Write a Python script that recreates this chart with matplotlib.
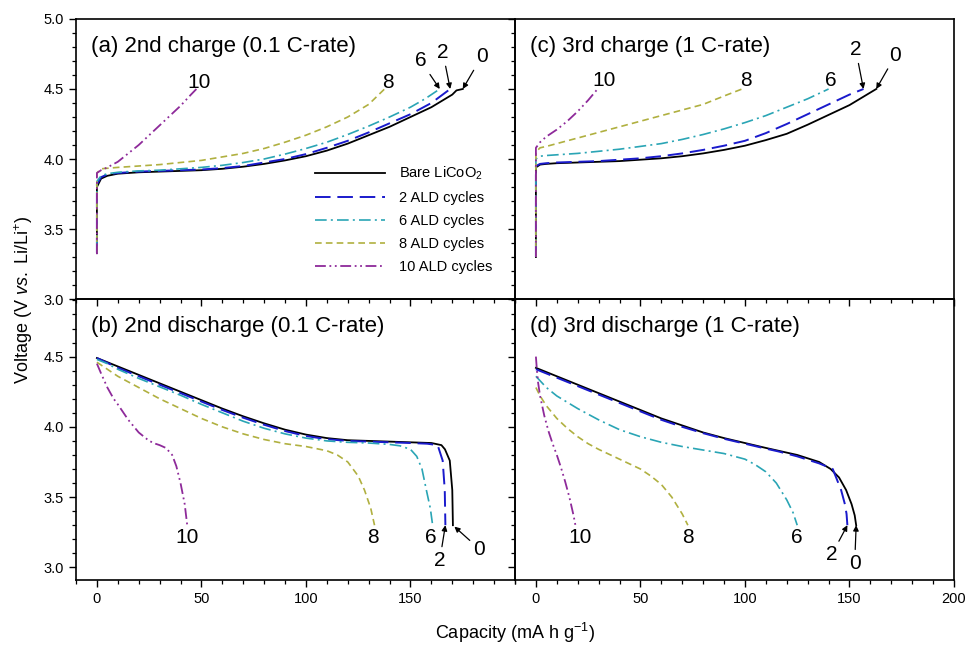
import matplotlib
matplotlib.use("Agg")
import matplotlib.pyplot as plt
from matplotlib.ticker import MultipleLocator, FixedLocator

plt.rcParams['font.family'] = ['Liberation Sans', 'DejaVu Sans']
plt.rcParams['mathtext.fontset'] = 'custom'
plt.rcParams['mathtext.rm'] = 'Liberation Sans'
plt.rcParams['mathtext.it'] = 'Liberation Sans:italic'

# ---------------- data ----------------
series_labels = ["Bare LiCoO$_2$", "2 ALD cycles", "6 ALD cycles", "8 ALD cycles", "10 ALD cycles"]
series_tags = ["0", "2", "6", "8", "10"]

# (a) 2nd charge 0.1 C
a0_x = [0, 0, 2, 5, 10, 20, 30, 40, 50, 60, 70, 80, 90, 100, 110, 120, 130, 140, 150, 160, 165, 170, 172, 175]
a0_y = [3.33, 3.80, 3.86, 3.88, 3.895, 3.905, 3.91, 3.915, 3.92, 3.93, 3.945, 3.965, 3.99, 4.02, 4.06, 4.11, 4.17, 4.23, 4.30, 4.37, 4.415, 4.46, 4.49, 4.50]
a2_x = [0, 0, 2, 5, 10, 20, 30, 40, 50, 60, 70, 80, 90, 100, 110, 120, 130, 140, 150, 160, 169]
a2_y = [3.33, 3.82, 3.87, 3.89, 3.90, 3.91, 3.915, 3.92, 3.925, 3.935, 3.95, 3.975, 4.0, 4.035, 4.08, 4.13, 4.19, 4.255, 4.32, 4.40, 4.50]
a6_x = [0, 0, 2, 5, 10, 20, 30, 40, 50, 60, 70, 80, 90, 100, 110, 120, 130, 140, 150, 157, 164]
a6_y = [3.33, 3.84, 3.88, 3.895, 3.905, 3.915, 3.92, 3.93, 3.94, 3.955, 3.975, 4.0, 4.035, 4.075, 4.12, 4.175, 4.235, 4.30, 4.37, 4.43, 4.50]
a8_x = [0, 0, 2, 10, 20, 30, 40, 50, 60, 70, 80, 90, 100, 110, 120, 130, 137.6]
a8_y = [3.33, 3.90, 3.93, 3.94, 3.95, 3.96, 3.975, 3.99, 4.015, 4.04, 4.075, 4.12, 4.17, 4.23, 4.30, 4.39, 4.50]
a10_x = [0, 0, 2, 5, 10, 15, 20, 25, 30, 35, 40, 45, 47.6]
a10_y = [3.32, 3.90, 3.92, 3.94, 3.98, 4.04, 4.10, 4.17, 4.24, 4.31, 4.38, 4.46, 4.50]

# (c) 3rd charge 1 C
c0_x = [0, 0, 2, 5, 10, 20, 30, 40, 50, 60, 70, 80, 90, 100, 110, 120, 130, 140, 150, 162.8]
c0_y = [3.30, 3.94, 3.96, 3.965, 3.97, 3.975, 3.98, 3.985, 3.995, 4.005, 4.02, 4.04, 4.065, 4.095, 4.135, 4.18, 4.245, 4.315, 4.385, 4.50]
c2_x = [0, 0, 2, 5, 10, 20, 30, 40, 50, 60, 70, 80, 90, 100, 110, 120, 130, 140, 150, 156.7]
c2_y = [3.30, 3.95, 3.965, 3.97, 3.975, 3.98, 3.985, 3.995, 4.005, 4.02, 4.04, 4.065, 4.095, 4.13, 4.185, 4.25, 4.32, 4.39, 4.46, 4.50]
c6_x = [0, 0, 2, 5, 10, 20, 30, 40, 50, 60, 70, 80, 90, 100, 110, 120, 130, 140]
c6_y = [3.30, 4.00, 4.02, 4.025, 4.03, 4.04, 4.055, 4.07, 4.09, 4.11, 4.14, 4.175, 4.215, 4.26, 4.31, 4.37, 4.43, 4.50]
c8_x = [0, 0, 2, 5, 10, 20, 30, 40, 50, 60, 70, 80, 90, 98.6]
c8_y = [3.30, 4.05, 4.08, 4.09, 4.11, 4.15, 4.19, 4.23, 4.27, 4.31, 4.35, 4.39, 4.45, 4.50]
c10_x = [0, 0, 2, 5, 10, 15, 20, 25, 29.5]
c10_y = [3.30, 4.08, 4.12, 4.16, 4.21, 4.27, 4.34, 4.42, 4.50]

# (b) 2nd discharge 0.1 C
b0_x = [0, 5, 10, 20, 30, 40, 50, 60, 70, 80, 90, 100, 110, 120, 130, 140, 150, 160, 164.8, 166.5, 168.8, 170, 170.3]
b0_y = [4.49, 4.46, 4.43, 4.37, 4.31, 4.25, 4.19, 4.13, 4.075, 4.025, 3.98, 3.945, 3.92, 3.905, 3.90, 3.895, 3.89, 3.885, 3.87, 3.84, 3.76, 3.55, 3.30]
b2_x = [0, 5, 10, 20, 30, 40, 50, 60, 70, 80, 90, 100, 110, 120, 130, 140, 150, 158, 163, 165.4, 166.4, 166.7]
b2_y = [4.49, 4.455, 4.42, 4.36, 4.30, 4.24, 4.18, 4.12, 4.065, 4.015, 3.97, 3.935, 3.912, 3.90, 3.895, 3.89, 3.885, 3.88, 3.87, 3.76, 3.55, 3.30]
b6_x = [0, 5, 10, 20, 30, 40, 50, 60, 70, 80, 90, 100, 110, 120, 130, 140, 145, 150, 153, 155.5, 157.6, 159.5, 160.6]
b6_y = [4.48, 4.45, 4.41, 4.345, 4.285, 4.225, 4.16, 4.10, 4.04, 3.99, 3.95, 3.92, 3.90, 3.89, 3.885, 3.875, 3.865, 3.84, 3.79, 3.70, 3.55, 3.42, 3.30]
b8_x = [0, 5, 10, 20, 30, 40, 50, 60, 70, 80, 90, 100, 110, 115, 120, 125, 128, 131, 132.8]
b8_y = [4.46, 4.41, 4.36, 4.28, 4.20, 4.13, 4.06, 4.00, 3.95, 3.91, 3.88, 3.86, 3.83, 3.80, 3.75, 3.65, 3.55, 3.42, 3.30]
b10_x = [0, 2, 5, 8, 10, 15, 20, 25, 28, 30, 33, 36, 38, 40, 42, 43.2]
b10_y = [4.45, 4.38, 4.28, 4.20, 4.16, 4.05, 3.96, 3.90, 3.88, 3.87, 3.85, 3.80, 3.72, 3.60, 3.45, 3.30]

# (d) 3rd discharge 1 C
d0_x = [0, 10, 20, 30, 40, 50, 60, 70, 80, 90, 100, 110, 116, 125, 135.5, 141, 145, 148.4, 151, 152.5, 153.2]
d0_y = [4.42, 4.36, 4.30, 4.24, 4.18, 4.12, 4.06, 4.01, 3.96, 3.92, 3.885, 3.85, 3.83, 3.80, 3.75, 3.70, 3.64, 3.55, 3.45, 3.37, 3.30]
d2_x = [0, 10, 20, 30, 40, 50, 60, 70, 80, 90, 100, 110, 116, 125, 135.5, 142, 146, 147.8, 148.6, 149.0]
d2_y = [4.41, 4.35, 4.29, 4.23, 4.17, 4.11, 4.05, 4.00, 3.955, 3.915, 3.88, 3.845, 3.825, 3.79, 3.74, 3.70, 3.55, 3.45, 3.38, 3.30]
d6_x = [0, 5, 10, 20, 30, 40, 50, 60, 70, 80, 90, 100, 105, 110, 115, 120, 123, 125]
d6_y = [4.36, 4.28, 4.22, 4.13, 4.05, 3.98, 3.93, 3.89, 3.86, 3.835, 3.81, 3.77, 3.73, 3.68, 3.60, 3.48, 3.39, 3.30]
d8_x = [0, 2, 5, 10, 15, 20, 25, 30, 40, 50, 55, 60, 65, 70, 72.7]
d8_y = [4.28, 4.22, 4.15, 4.06, 3.99, 3.93, 3.88, 3.84, 3.77, 3.70, 3.65, 3.59, 3.50, 3.38, 3.30]
d10_x = [0, 0.5, 1, 2, 4, 6, 8, 10, 12, 14, 16, 18, 18.9]
d10_y = [4.50, 4.40, 4.32, 4.22, 4.08, 3.97, 3.88, 3.80, 3.71, 3.61, 3.50, 3.37, 3.30]

panel_titles = ["(a) 2nd charge (0.1 C-rate)", "(c) 3rd charge (1 C-rate)",
                "(b) 2nd discharge (0.1 C-rate)", "(d) 3rd discharge (1 C-rate)"]
x_ticks = [0, 50, 100, 150, 200]
y_ticks = [3.0, 3.5, 4.0, 4.5, 5.0]

# ---------------- style ----------------
colors = ["#000000", "#1a1acc", "#2aa5b5", "#b0b040", "#8e2a9a"]
dashes = [None, (8, 3.5), (7, 2.5, 1.2, 2.5), (4, 2.5), (6, 2, 1, 2, 1, 2)]
lws = [1.3, 1.4, 1.2, 1.2, 1.3]

W, H = 967, 647
fig = plt.figure(figsize=(W / 100, H / 100), dpi=100)
xl, xm, xr = 76 / W, 515 / W, 954 / W
yt, ym, yb = 1 - 19 / H, 1 - 299 / H, 1 - 580 / H
ax_a = fig.add_axes([xl, ym, xm - xl, yt - ym])
ax_c = fig.add_axes([xm, ym, xr - xm, yt - ym])
ax_b = fig.add_axes([xl, yb, xm - xl, ym - yb])
ax_d = fig.add_axes([xm, yb, xr - xm, ym - yb])

data = {
    ax_a: [(a0_x, a0_y), (a2_x, a2_y), (a6_x, a6_y), (a8_x, a8_y), (a10_x, a10_y)],
    ax_c: [(c0_x, c0_y), (c2_x, c2_y), (c6_x, c6_y), (c8_x, c8_y), (c10_x, c10_y)],
    ax_b: [(b0_x, b0_y), (b2_x, b2_y), (b6_x, b6_y), (b8_x, b8_y), (b10_x, b10_y)],
    ax_d: [(d0_x, d0_y), (d2_x, d2_y), (d6_x, d6_y), (d8_x, d8_y), (d10_x, d10_y)],
}

for ax, title in zip([ax_a, ax_c, ax_b, ax_d], panel_titles):
    for (x, y), col, ds, lw, lab in zip(data[ax], colors, dashes, lws, series_labels):
        ln, = ax.plot(x, y, color=col, lw=lw, label=lab)
        if ds is not None:
            ln.set_dashes(ds)
    ax.set_xlim(-10, 200)
    ax.xaxis.set_major_locator(FixedLocator(x_ticks))
    ax.xaxis.set_minor_locator(MultipleLocator(10))
    ax.yaxis.set_major_locator(FixedLocator(y_ticks))
    ax.yaxis.set_minor_locator(MultipleLocator(0.1))
    ax.tick_params(which='major', direction='out', length=5, width=1.0, labelsize=10.5,
                   top=False, right=False)
    ax.tick_params(which='minor', direction='out', length=3, width=0.9, top=False, right=False)
    for s in ax.spines.values():
        s.set_linewidth(1.2)
    ax.text(0.035, 0.94, title, transform=ax.transAxes, fontsize=16, va='top', ha='left')
    ax.set_facecolor('none')

ax_a.set_ylim(3.0, 5.0)
ax_c.set_ylim(3.0, 5.0)
ax_b.set_ylim(2.91, 4.91)
ax_d.set_ylim(2.91, 4.91)

for ax in [ax_a, ax_c]:
    ax.tick_params(labelbottom=False)
for ax in [ax_c, ax_d]:
    ax.tick_params(labelleft=False)
ax_b.set_xticks([0, 50, 100, 150])
ax_b.set_yticks([3.0, 3.5, 4.0, 4.5])
ax_d.set_yticks([3.0, 3.5, 4.0, 4.5])
ax_a.set_xticks([0, 50, 100, 150])
for ax in [ax_a, ax_b]:
    ax.yaxis.set_major_formatter(matplotlib.ticker.FormatStrFormatter('%.1f'))

# legend
leg = ax_a.legend(loc='upper left', bbox_to_anchor=(0.53, 0.50), frameon=False, fontsize=10.5,
                  handlelength=4.8, handletextpad=1.0, labelspacing=0.62, borderaxespad=0)

# curve tags
tag_fs = 15
arrow = dict(arrowstyle='-|>', color='black', lw=0.9, mutation_scale=8, shrinkA=1, shrinkB=0)

# (a)
ax_a.text(49, 4.55, series_tags[4], fontsize=tag_fs, ha='center', va='center')
ax_a.text(139, 4.55, series_tags[3], fontsize=tag_fs, ha='center', va='center')
ax_a.annotate(series_tags[2], xy=(a6_x[-1], a6_y[-1]), xytext=(155, 4.70), fontsize=tag_fs,
              ha='center', va='center', arrowprops=arrow)
ax_a.annotate(series_tags[1], xy=(a2_x[-1], a2_y[-1]), xytext=(165.5, 4.76), fontsize=tag_fs,
              ha='center', va='center', arrowprops=arrow)
ax_a.annotate(series_tags[0], xy=(a0_x[-1], a0_y[-1]), xytext=(184, 4.73), fontsize=tag_fs,
              ha='center', va='center', arrowprops=arrow)
# (c)
ax_c.text(32.5, 4.56, series_tags[4], fontsize=tag_fs, ha='center', va='center')
ax_c.text(100.6, 4.56, series_tags[3], fontsize=tag_fs, ha='center', va='center')
ax_c.text(141, 4.56, series_tags[2], fontsize=tag_fs, ha='center', va='center')
ax_c.annotate(series_tags[1], xy=(c2_x[-1], c2_y[-1]), xytext=(153, 4.78), fontsize=tag_fs,
              ha='center', va='center', arrowprops=arrow)
ax_c.annotate(series_tags[0], xy=(c0_x[-1], c0_y[-1]), xytext=(172, 4.74), fontsize=tag_fs,
              ha='center', va='center', arrowprops=arrow)
# (b)
ax_b.text(43.2, 3.21, series_tags[4], fontsize=tag_fs, ha='center', va='center')
ax_b.text(132, 3.21, series_tags[3], fontsize=tag_fs, ha='center', va='center')
ax_b.text(159.5, 3.21, series_tags[2], fontsize=tag_fs, ha='center', va='center')
ax_b.annotate(series_tags[1], xy=(b2_x[-1], b2_y[-1]), xytext=(164, 3.05), fontsize=tag_fs,
              ha='center', va='center', arrowprops=arrow)
ax_b.annotate(series_tags[0], xy=(b0_x[-1] + 0.7, b0_y[-1] - 0.01), xytext=(183, 3.13), fontsize=tag_fs,
              ha='center', va='center', arrowprops=arrow)
# (d)
ax_d.text(21.3, 3.21, series_tags[4], fontsize=tag_fs, ha='center', va='center')
ax_d.text(72.7, 3.21, series_tags[3], fontsize=tag_fs, ha='center', va='center')
ax_d.text(125, 3.21, series_tags[2], fontsize=tag_fs, ha='center', va='center')
ax_d.annotate(series_tags[1], xy=(d2_x[-1], d2_y[-1]), xytext=(141.5, 3.09), fontsize=tag_fs,
              ha='center', va='center', arrowprops=arrow)
ax_d.annotate(series_tags[0], xy=(d0_x[-1], d0_y[-1]), xytext=(152.5, 3.03), fontsize=tag_fs,
              ha='center', va='center', arrowprops=arrow)

fig.text(515 / W, 1 - 633 / H, "Capacity (mA h g$^{-1}$)", ha='center', va='center', fontsize=13)
fig.text(24 / W, 1 - 300 / H, "Voltage (V $\\mathit{vs.}$ Li/Li$^{+}$)", ha='center', va='center',
         rotation=90, fontsize=13)

fig.savefig("out.png", dpi=100)
